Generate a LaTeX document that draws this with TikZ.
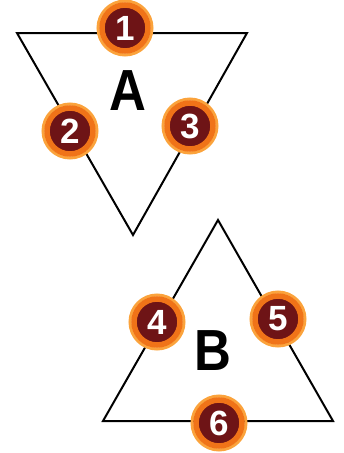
\documentclass[tikz,border=0pt]{standalone}
\usepackage{fontspec}
\setmainfont{Liberation Sans}
\definecolor{maroon}{HTML}{6E1416}
\definecolor{ringorange}{HTML}{F07318}
\definecolor{haloorange}{HTML}{FBA33C}
\tikzset{
  edge/.style={line width=2pt, line join=miter},
  numdot/.style={circle, fill=maroon, draw=ringorange, line width=5.5pt,
    minimum size=46pt, inner sep=0pt, text=white,
    font=\fontsize{35}{35}\selectfont\bfseries},
  halo/.style={draw=haloorange, line width=3pt},
  biglabel/.style={font=\fontsize{58}{58}\selectfont\bfseries, text=black, inner sep=0pt}
}
\begin{document}
\begin{tikzpicture}[x=1pt,y=-1pt]
\useasboundingbox (0,0) rectangle (344,453);
% triangle A
\coordinate (a1) at (17,33);
\coordinate (a2) at (247,33);
\coordinate (a3) at (133,235);
\draw[edge] (a1) -- (a2) -- (a3) -- cycle;
% triangle B
\coordinate (b1) at (218,220);
\coordinate (b2) at (333,421);
\coordinate (b3) at (103,421);
\draw[edge] (b1) -- (b2) -- (b3) -- cycle;
% labels
\node[biglabel] (la) at (128,91) {\scalebox{0.88}[1]{A}};
\node[biglabel] (lb) at (213,351) {\scalebox{0.88}[1]{B}};
% halos
\foreach \p in {(125,28),(70,131),(190,126),(157,322),(278,319),(219,423)}
  \draw[halo] \p circle (27);
% numbered dots
\node[numdot] (n1) at (125,28) {1};
\node[numdot] (n2) at (70,131) {2};
\node[numdot] (n3) at (190,126) {3};
\node[numdot] (n4) at (157,322) {4};
\node[numdot] (n5) at (278,319) {5};
\node[numdot] (n6) at (219,423) {6};
\end{tikzpicture}
\end{document}
